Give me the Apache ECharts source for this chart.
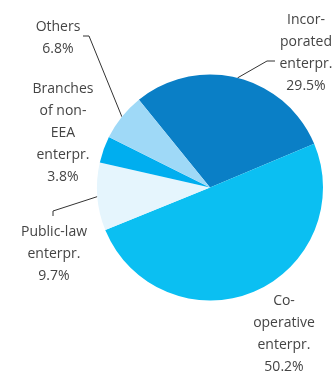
<!DOCTYPE html>
<html>
<head>
<meta charset="utf-8">
<script src="https://cdn.jsdelivr.net/npm/echarts@6/dist/echarts.min.js"></script>
<style>
html,body{margin:0;padding:0;background:#fff;}
#chart{width:334px;height:374px;}
</style>
</head>
<body>
<div id="chart"></div>
<script>
const categories = ['Incorporated enterpr.', 'Co-operative enterpr.', 'Public-law enterpr.', 'Branches of non-EEA enterpr.', 'Others'];
const labelTexts = ['Incor-\nporated\nenterpr.', 'Co-\noperative\nenterpr.', 'Public-law\nenterpr.', 'Branches\nof non-\nEEA\nenterpr.', 'Others'];
const shares = [29.5, 50.2, 9.7, 3.8, 6.8];
const colors = ['#0a7fc6', '#0bbff2', '#e5f5fd', '#00aeef', '#9fd9f7'];

// label placement (layout, not data)
const labelPos = [
  {x: 306, y: 9},
  {x: 284, y: 290},
  {x: 54, y: 221},
  {x: 63, y: 78},
  {x: 58, y: 16}
];
const linePts = [
  [[267, 61], [275, 61]],
  null,
  [[53, 211], [53, 216]],
  null,
  [[89, 36], [83, 36]]
];

const chart = echarts.init(document.getElementById('chart'), null, {renderer: 'canvas'});
chart.setOption({
  animation: false,
  series: [{
    type: 'pie',
    center: [210, 187.5],
    radius: 113,
    startAngle: 129,
    clockwise: true,
    avoidLabelOverlap: false,
    data: categories.map((c, i) => ({
      name: c,
      value: shares[i],
      itemStyle: {color: colors[i]},
      labelLine: {show: !!linePts[i]}
    })),
    label: {
      show: true,
      position: 'outside',
      formatter: p => labelTexts[p.dataIndex] + '\n' + p.value.toFixed(1) + '%',
      fontFamily: 'Open Sans',
      fontSize: 14,
      lineHeight: 22,
      color: '#444',
      align: 'center'
    },
    labelLine: {
      show: true,
      lineStyle: {color: '#333', width: 1}
    },
    labelLayout: function (params) {
      const i = params.dataIndex;
      const res = {x: labelPos[i].x, y: labelPos[i].y, align: 'center', verticalAlign: 'top'};
      if (linePts[i] && params.labelLinePoints) {
        res.labelLinePoints = [params.labelLinePoints[0], linePts[i][0], linePts[i][1]];
      }
      return res;
    },
    emphasis: {disabled: true}
  }]
});
</script>
</body>
</html>
